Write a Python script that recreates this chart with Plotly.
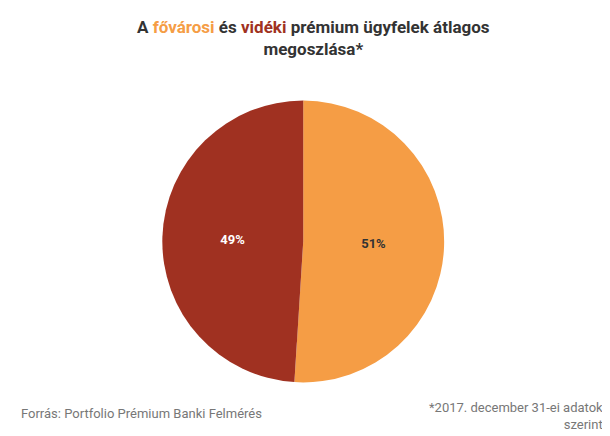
import plotly.graph_objects as go

labels = ["fővárosi", "vidéki"]
values = [51, 49]
colors = ["#F59D45", "#A03121"]
text_colors = ["#333333", "#FFFFFF"]

fig = go.Figure(go.Pie(
    labels=labels, values=values, sort=False, direction="clockwise", rotation=0,
    marker=dict(colors=colors, line=dict(width=0)),
    texttemplate="<b>%{percent:.0%}</b>", textposition="inside", insidetextorientation="horizontal",
    textfont=dict(family="Roboto", size=13, color=text_colors),
    domain=dict(x=[0.253, 0.715], y=[0.140, 0.789]),
    showlegend=False, hoverinfo="label+percent",
))
fig.update_layout(
    width=610, height=436, margin=dict(l=0, r=0, t=0, b=0),
    paper_bgcolor="white", plot_bgcolor="white",
    font=dict(family="Roboto"),
    annotations=[
        dict(x=0.5, y=0.985, xref="paper", yref="paper", xanchor="center", yanchor="top",
             showarrow=False, align="center",
             text="<b>A <span style='color:#F59D45'>fővárosi</span> és <span style='color:#A03121'>vidéki</span> prémium ügyfelek átlagos<br>megoszlása*</b>",
             font=dict(size=17, color="#333333", family="Roboto")),
        dict(x=0.018, y=0.07, xref="paper", yref="paper", xanchor="left", yanchor="middle",
             showarrow=False, text="Forrás: Portfolio Prémium Banki Felmérés",
             font=dict(size=13, color="#777777")),
        dict(x=0.978, y=0.105, xref="paper", yref="paper", xanchor="right", yanchor="top",
             showarrow=False, align="right", text="*2017. december 31-ei adatok<br>szerint",
             font=dict(size=13, color="#777777")),
    ],
)
fig.write_html("out.html")
